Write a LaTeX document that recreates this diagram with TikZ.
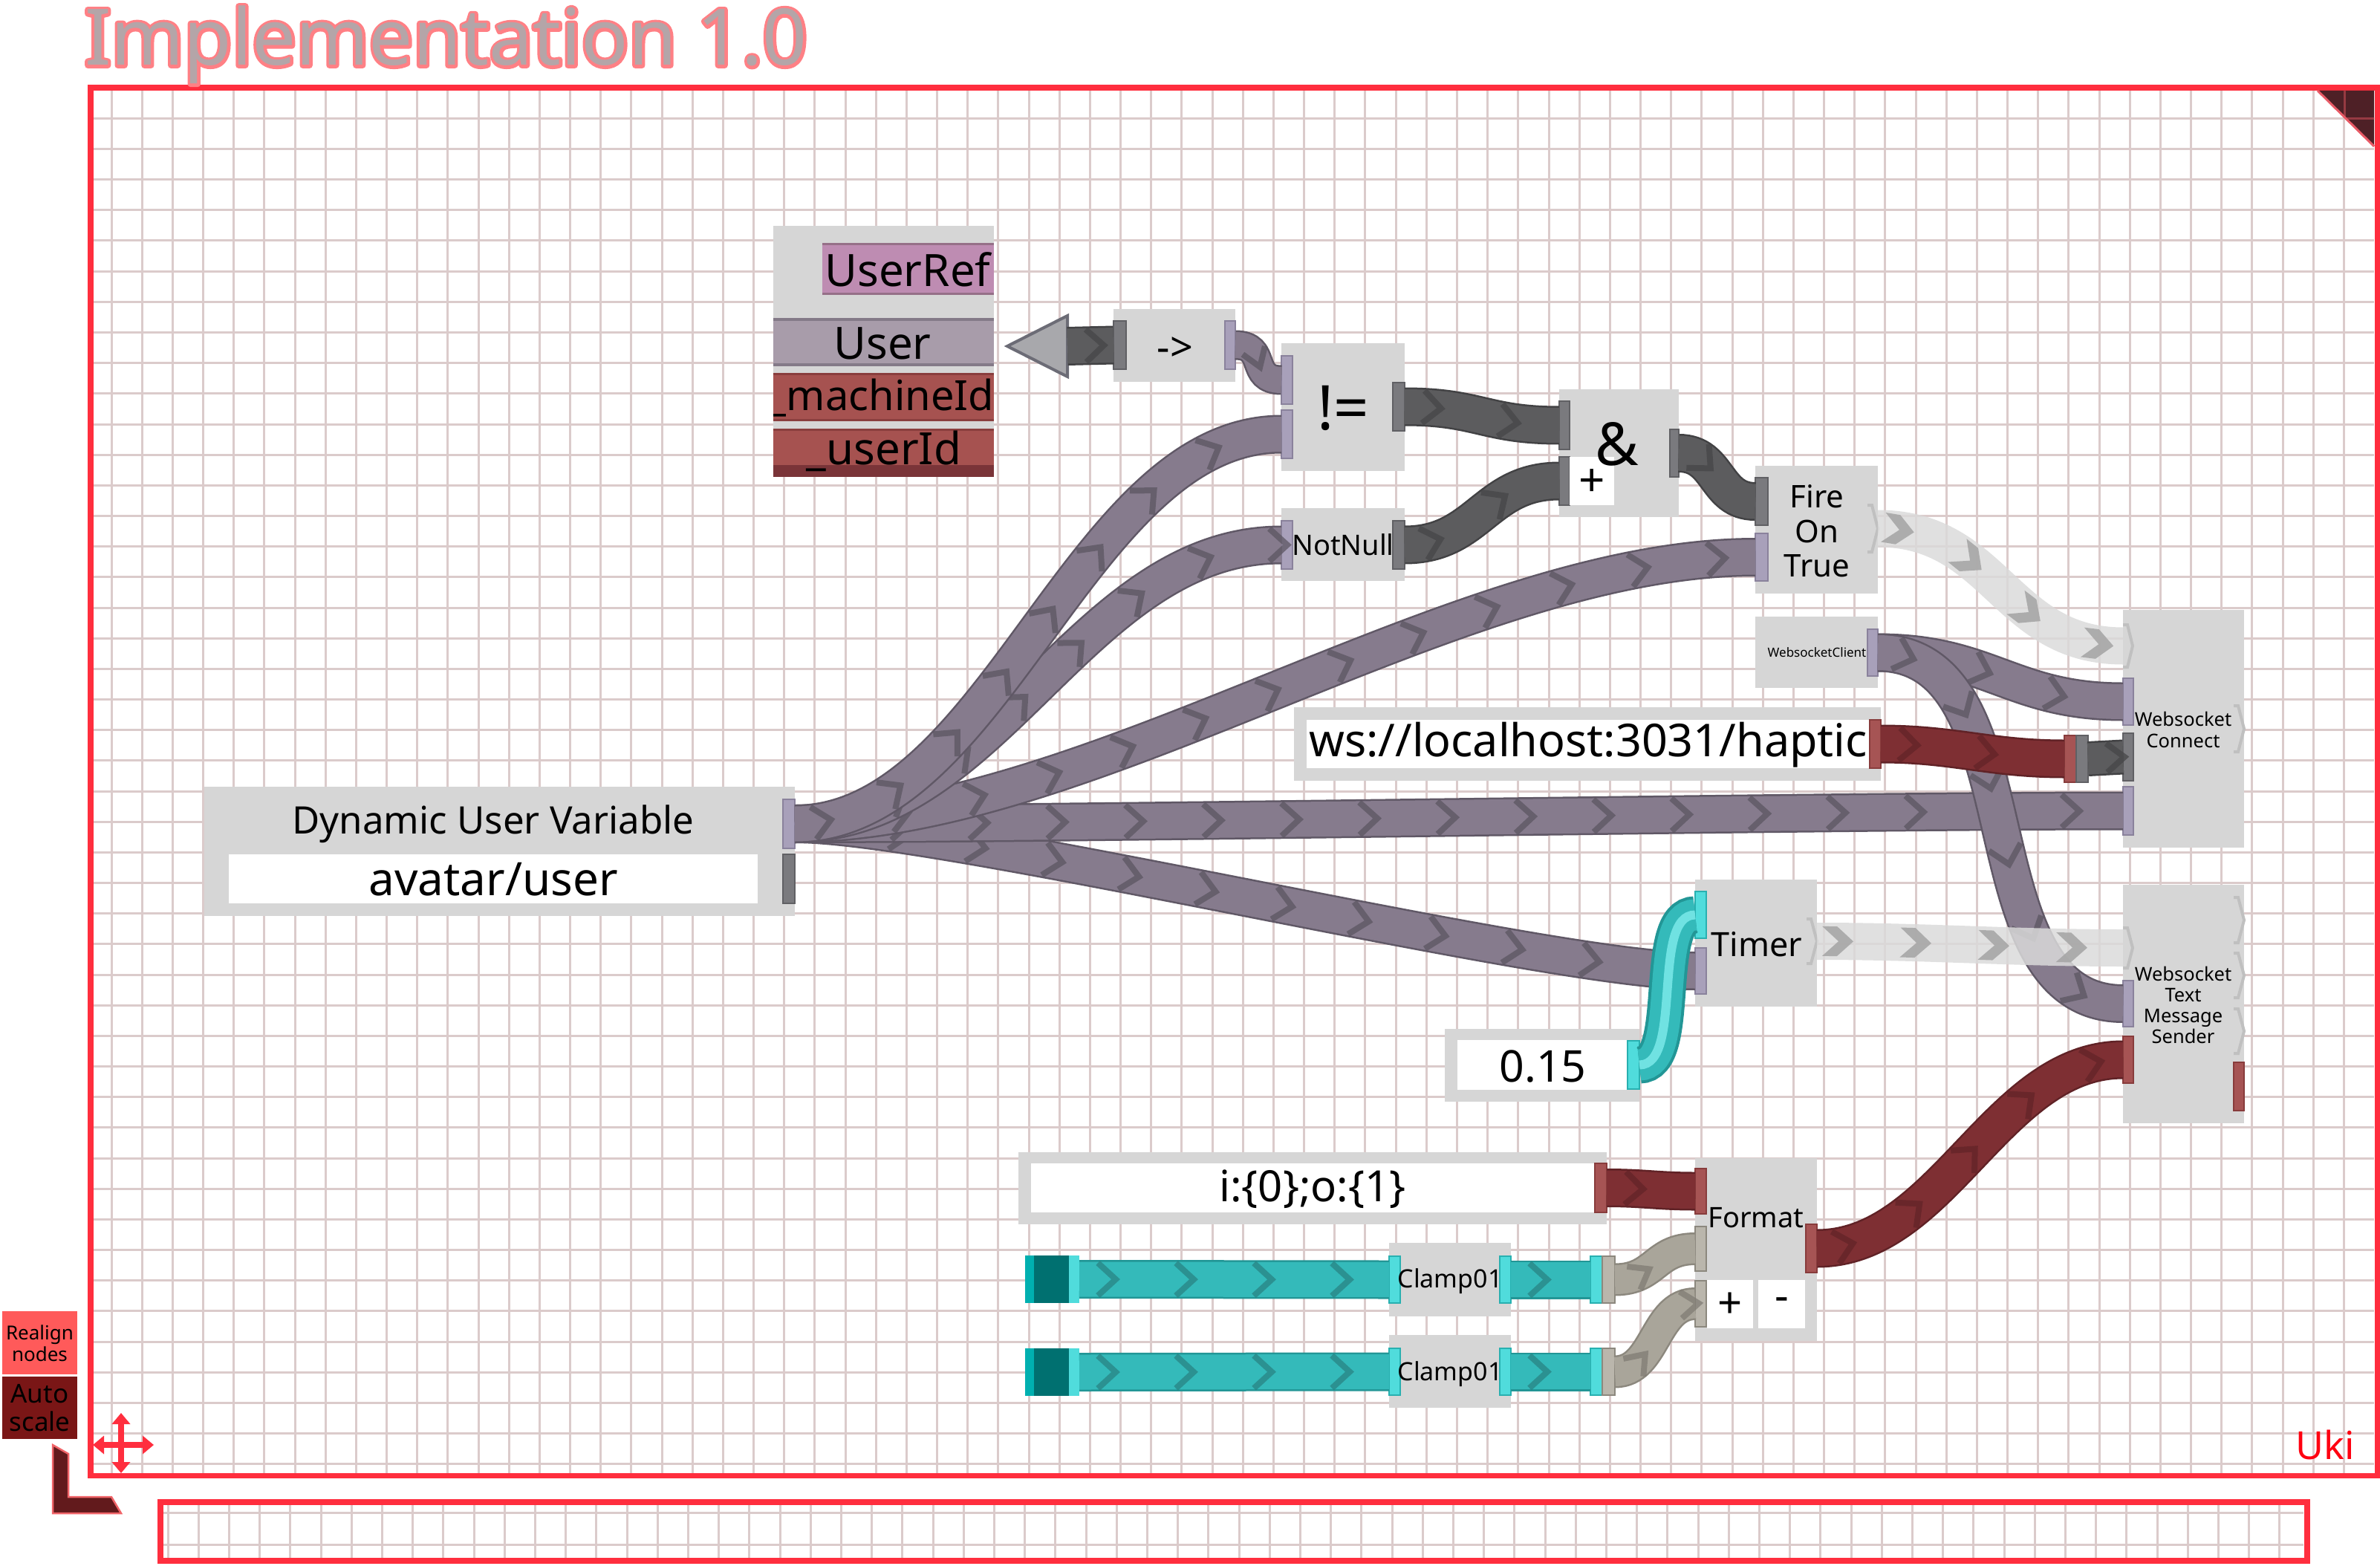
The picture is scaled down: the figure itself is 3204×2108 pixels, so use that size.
\documentclass[tikz,border=0pt]{standalone}
\usepackage{fontspec}
\setmainfont{Noto Sans}
\usetikzlibrary{decorations.markings,calc,arrows.meta}
\newcommand\fsz[1]{\fontsize{#1}{#1}\selectfont}
\newcommand\mkbox[6]{%
  \pgfmathsetmacro\bxw{#4-#2}\pgfmathsetmacro\bxh{#5-#3}%
  \node[minimum width=\bxw pt, minimum height=\bxh pt, anchor=north west, inner sep=0pt, outer sep=0pt, #6] (#1) at (#2,#3) {};}
\definecolor{gridc}{RGB}{219,203,203}
\definecolor{framec}{RGB}{255,46,62}
\definecolor{nbody}{RGB}{214,214,214}
\definecolor{lavW}{RGB}{134,123,141}
\definecolor{lavE}{RGB}{96,88,102}
\definecolor{lavC}{RGB}{92,86,98}
\definecolor{lavP}{RGB}{168,160,186}
\definecolor{lavPE}{RGB}{138,130,156}
\definecolor{drkW}{RGB}{92,92,94}
\definecolor{drkE}{RGB}{66,66,68}
\definecolor{drkC}{RGB}{70,70,72}
\definecolor{drkP}{RGB}{122,122,126}
\definecolor{drkPE}{RGB}{96,96,100}
\definecolor{redW}{RGB}{126,47,51}
\definecolor{redE}{RGB}{96,34,38}
\definecolor{redC}{RGB}{98,36,40}
\definecolor{redP}{RGB}{166,84,84}
\definecolor{redPE}{RGB}{136,60,60}
\definecolor{cyW}{RGB}{52,186,186}
\definecolor{cyE}{RGB}{34,150,150}
\definecolor{cyC}{RGB}{40,132,132}
\definecolor{cyH}{RGB}{112,226,226}
\definecolor{cyP}{RGB}{80,220,220}
\definecolor{cyPE}{RGB}{40,176,176}
\definecolor{dteal}{RGB}{0,112,112}
\definecolor{cyS}{RGB}{0,176,176}
\definecolor{bgW}{RGB}{169,165,154}
\definecolor{bgE}{RGB}{140,136,126}
\definecolor{bgC}{RGB}{128,124,116}
\definecolor{bgP}{RGB}{186,182,172}
\definecolor{impW}{RGB}{218,218,218}
\definecolor{impC}{RGB}{164,164,164}
\definecolor{brk}{RGB}{192,192,192}
\definecolor{refP}{RGB}{190,140,178}
\definecolor{refPE}{RGB}{150,112,136}
\definecolor{userR}{RGB}{168,156,170}
\definecolor{userRE}{RGB}{132,122,136}
\definecolor{idR}{RGB}{166,82,80}
\definecolor{idRE}{RGB}{138,62,62}
\definecolor{idRD}{RGB}{122,52,56}
\definecolor{triF}{RGB}{168,168,172}
\definecolor{triE}{RGB}{108,108,118}
\definecolor{titleF}{RGB}{180,165,168}
\definecolor{realignc}{RGB}{255,90,90}
\definecolor{autoc}{RGB}{122,22,22}
\definecolor{ukired}{RGB}{255,0,16}
\definecolor{cornc}{RGB}{78,32,38}
\definecolor{cornl}{RGB}{150,58,66}
\definecolor{corne}{RGB}{232,90,102}
\definecolor{lshape}{RGB}{98,26,28}
\definecolor{lshapeE}{RGB}{240,100,104}
\tikzset{
  txt/.style={inner sep=0pt, outer sep=0pt},
  body/.style={fill=nbody},
  fieldw/.style={fill=white},
  pL/.style={fill=lavP, draw=lavPE, line width=2pt},
  pD/.style={fill=drkP, draw=drkPE, line width=2pt},
  pR/.style={fill=redP, draw=redPE, line width=2pt},
  pC/.style={fill=cyP, draw=cyPE, line width=2pt},
  pB/.style={fill=bgP, draw=bgE, line width=2pt},
  gridl/.style={draw=gridc, line width=3pt},
  brkst/.style={draw=brk, line width=4pt, line join=miter},
  wirest/.style n args={4}{draw=#2, line width=#4,
    postaction={draw=#1, line width=#4-5pt},
    postaction={draw=none, decorate, decoration={markings,
      mark=between positions 40pt and 1 step 105pt with
      {\draw[line width=8pt, draw=#3, draw opacity=.75, line join=miter]
        (-15pt,{-#4/2+4pt}) -- (9pt,0pt) -- (-15pt,{#4/2-4pt});}}}},
  lavwire/.style={wirest={lavW}{lavE}{lavC}{52pt}},
  lavwireS/.style={wirest={lavW}{lavE}{lavC}{40pt}},
  drkwire/.style={wirest={drkW}{drkE}{drkC}{52pt}},
  redwire/.style={wirest={redW}{redE}{redC}{52pt}},
  cywire/.style={wirest={cyW}{cyE}{cyC}{52pt}},
  bgwire/.style={wirest={bgW}{bgE}{bgC}{44pt}},
  cy3d/.style={draw=cyE, line width=50pt, postaction={draw=cyW, line width=42pt},
    postaction={draw=cyH, line width=12pt}},
  impwire/.style={draw=impW, line width=50pt, draw opacity=.85,
    postaction={draw=none, decorate, decoration={markings,
      mark=between positions 35pt and 1 step 105pt with
      {\fill[impC, fill opacity=.85] (-28pt,-20pt) -- (-8pt,-20pt) -- (14pt,0pt)
        -- (-8pt,20pt) -- (-28pt,20pt) -- (-6pt,0pt) -- cycle;}}}},
}
\begin{document}
\begin{tikzpicture}[x=1pt,y=-1pt]
\useasboundingbox (0,0) rectangle (3204,2108);
% ---------- grids ----------
\foreach \k in {0,...,73} {\draw[gridl] ({150+41.17*\k},121) -- ({150+41.17*\k},1983);}
\foreach \k in {0,...,44} {\draw[gridl] (124,{159.3+41.17*\k}) -- (3196,{159.3+41.17*\k});}
\foreach \k in {0,...,69} {\draw[gridl] ({226+41.2*\k},2026) -- ({226+41.2*\k},2097);}
\foreach \yy in {2036,2079} {\draw[gridl] (220,\yy) -- (3101,\yy);}
% ---------- frames ----------
\draw[framec, line width=7.5pt] (121.75,118) rectangle (3200.25,1986.5);
\draw[framec, line width=8pt] (216,2022) rectangle (3105.5,2101);
\fill[cornc] (3120,122) -- (3196,122) -- (3196,197) -- cycle;
\begin{scope}
  \clip (3120,122) -- (3196,122) -- (3196,197) -- cycle;
  \draw[cornl, line width=3pt] (3156.4,100) -- (3156.4,210);
  \draw[cornl, line width=3pt] (3100,159.3) -- (3200,159.3);
\end{scope}
\draw[corne, line width=3pt] (3120,122) -- (3196,197);
% ---------- title (outlined) ----------
\node[txt, anchor=base west, text=titleF, font=\fsz{105}] (ttlo) at (114,88)
  {\special{pdf:literal direct 1 Tr 8 w 1 0.5 0.52 RG 1 j}Implementation 1.0\special{pdf:literal direct 0 Tr}};
\node[txt, anchor=base west, text=titleF, font=\fsz{105}] (ttl) at (114,88) {Implementation 1.0};
% ---------- UserRef panel ----------
\mkbox{urefP}{1041}{304}{1338}{642}{body}
\mkbox{urefL}{1107}{329}{1338}{395}{fill=refP}
\draw[refPE, line width=3pt] (urefL.north west) -- (urefL.north east);
\draw[refPE, line width=3pt] (urefL.south west) -- (urefL.south east);
\node[txt, anchor=base, font=\fsz{60}] (urefT) at (1222,385) {UserRef};
\mkbox{uUser}{1041}{428}{1338}{493}{fill=userR}
\draw[userRE, line width=4pt] ([yshift=-2pt]uUser.north west) -- ([yshift=-2pt]uUser.north east);
\draw[userRE, line width=4pt] ([yshift=2pt]uUser.south west) -- ([yshift=2pt]uUser.south east);
\node[txt, anchor=base, font=\fsz{60}] (uUserT) at (1188,483) {User};
\mkbox{uMid}{1041}{502}{1338}{567}{fill=idR}
\draw[idRE, line width=3pt] ([yshift=-1.5pt]uMid.north west) -- ([yshift=-1.5pt]uMid.north east);
\draw[idRE, line width=3pt] ([yshift=1.5pt]uMid.south west) -- ([yshift=1.5pt]uMid.south east);
\begin{scope}
  \clip (1041,502) rectangle (1338,567);
  \node[txt, anchor=base, font=\fsz{56}] (uMidT) at (1186,552) {\_machineId};
\end{scope}
\mkbox{uUid}{1041}{577}{1338}{642}{fill=idR}
\mkbox{uUidD}{1041}{626}{1338}{642}{fill=idRD}
\draw[idRE, line width=3pt] ([yshift=-1.5pt]uUid.north west) -- ([yshift=-1.5pt]uUid.north east);
\node[txt, anchor=base, font=\fsz{60}] (uUidT) at (1190,625) {\_userId};
% ---------- -> node and output arrow ----------
\mkbox{refTri}{1356}{425}{1437}{507}{}
\filldraw[fill=triF, draw=triE, line width=4pt, line join=miter] (refTri.west) -- (refTri.north east) -- (refTri.south east) -- cycle;
\mkbox{arrN}{1499}{416}{1663}{514}{body}
\mkbox{arrL}{1499}{432}{1516}{497}{pD}
\mkbox{arrR}{1649}{432}{1663}{497}{pL}
\node[txt, anchor=base, font=\fsz{54}] (arrT) at (1582,486) {->};
% ---------- != ----------
\mkbox{neqN}{1725}{462}{1891}{634}{body}
\mkbox{neqA}{1725}{479}{1740}{544}{pL}
\mkbox{neqB}{1725}{552}{1740}{617}{pL}
\mkbox{neqO}{1875}{515}{1891}{580}{pD}
\node[txt, anchor=base, font=\fsz{83}] (neqT) at (1808,578) {!=};
% ---------- & ----------
\mkbox{andN}{2099}{524}{2260}{696}{body}
\mkbox{andA}{2099}{540}{2113}{605}{pD}
\mkbox{andB}{2099}{615}{2113}{680}{pD}
\mkbox{andO}{2248}{578}{2260}{642}{pD}
\mkbox{andP}{2113}{615}{2173}{680}{fieldw}
\node[txt, font=\fsz{62}] (andPT) at (2143,650) {+};
\node[txt, anchor=base, font=\fsz{80}] (andT) at (2177,626) {\&};
% ---------- NotNull ----------
\mkbox{nnN}{1725}{684}{1891}{782}{body}
\mkbox{nnI}{1725}{701}{1740}{766}{pL}
\mkbox{nnO}{1875}{701}{1891}{766}{pD}
\node[txt, anchor=base, font=\fsz{38}] (nnT) at (1808,747) {NotNull};
% ---------- Fire On True ----------
\mkbox{fotN}{2363}{627}{2528}{799}{body}
\mkbox{fotA}{2363}{643}{2380}{707}{pD}
\mkbox{fotB}{2363}{718}{2380}{782}{pL}
\mkbox{fotI}{2514}{680}{2528}{743}{}
\draw[brkst] (fotI.north west) -- ($(fotI.north west)+(6,0)$) -- (fotI.east) -- ($(fotI.south west)+(6,0)$) -- (fotI.south west);
\node[txt, anchor=base, font=\fsz{42}] (fotT1) at (2446,683) {Fire};
\node[txt, anchor=base, font=\fsz{42}] (fotT2) at (2446,730) {On};
\node[txt, anchor=base, font=\fsz{42}] (fotT3) at (2446,776) {True};
% ---------- WebsocketClient ----------
\mkbox{wcN}{2363}{830}{2528}{926}{body}
\mkbox{wcO}{2514}{847}{2528}{910}{pL}
\node[txt, anchor=base, font=\fsz{17}] (wcT) at (2446,884) {WebsocketClient};
% ---------- ws url ----------
\mkbox{wsN}{1742}{952}{2532}{1051}{body}
\mkbox{wsF}{1759}{969}{2517}{1034}{fieldw}
\mkbox{wsO}{2517}{969}{2532}{1034}{pR}
\node[txt, anchor=base, font=\fsz{61}] (wsT) at (2138,1018) {ws://localhost:3031/haptic};
% ---------- converter ----------
\mkbox{convR}{2779}{990}{2795}{1053}{pR}
\mkbox{convG}{2795}{990}{2811}{1053}{pD}
% ---------- Websocket Connect ----------
\mkbox{wscN}{2858}{821}{3021}{1141}{body}
\mkbox{wscI}{2858}{841}{2871}{898}{}
\mkbox{wscA}{2858}{913}{2872}{976}{pL}
\mkbox{wscB}{2858}{987}{2872}{1051}{pD}
\mkbox{wscC}{2858}{1059}{2872}{1124}{pL}
\mkbox{wscX}{3007}{950}{3021}{1012}{}
\foreach \p in {wscI,wscX}
  {\draw[brkst] (\p.north west) -- ($(\p.north west)+(6,0)$) -- (\p.east) -- ($(\p.south west)+(6,0)$) -- (\p.south west);}
\node[txt, anchor=base, font=\fsz{25.5}] (wscT1) at (2939,977) {Websocket};
\node[txt, anchor=base, font=\fsz{25.5}] (wscT2) at (2939,1006) {Connect};
% ---------- Websocket Text Message Sender ----------
\mkbox{wtN}{2858}{1191}{3021}{1512}{body}
\mkbox{wtI}{2858}{1249}{2871}{1303}{}
\mkbox{wtA}{2858}{1320}{2872}{1382}{pL}
\mkbox{wtB}{2858}{1395}{2872}{1458}{pR}
\mkbox{wtX1}{3007}{1208}{3021}{1269}{}
\mkbox{wtX2}{3007}{1283}{3021}{1343}{}
\mkbox{wtX3}{3007}{1358}{3021}{1418}{}
\mkbox{wtO}{3007}{1430}{3021}{1495}{pR}
\foreach \p in {wtI,wtX1,wtX2,wtX3}
  {\draw[brkst] (\p.north west) -- ($(\p.north west)+(6,0)$) -- (\p.east) -- ($(\p.south west)+(6,0)$) -- (\p.south west);}
\node[txt, anchor=base, font=\fsz{25.5}] (wtT1) at (2939,1320) {Websocket};
\node[txt, anchor=base, font=\fsz{25.5}] (wtT2) at (2939,1348) {Text};
\node[txt, anchor=base, font=\fsz{25.5}] (wtT3) at (2939,1376) {Message};
\node[txt, anchor=base, font=\fsz{25.5}] (wtT4) at (2939,1404) {Sender};
% ---------- Timer ----------
\mkbox{tmN}{2282}{1184}{2446}{1355}{body}
\mkbox{tmA}{2282}{1200}{2297}{1263}{pC}
\mkbox{tmB}{2282}{1276}{2297}{1338}{pL}
\mkbox{tmI}{2432}{1237}{2446}{1297}{}
\draw[brkst] (tmI.north west) -- ($(tmI.north west)+(6,0)$) -- (tmI.east) -- ($(tmI.south west)+(6,0)$) -- (tmI.south west);
\node[txt, anchor=base, font=\fsz{45}] (tmT) at (2365,1287) {Timer};
% ---------- 0.15 ----------
\mkbox{v15N}{1945}{1385}{2207}{1483}{body}
\mkbox{v15F}{1962}{1400}{2191}{1467}{fieldw}
\mkbox{v15O}{2191}{1401}{2207}{1466}{pC}
\node[txt, anchor=base, font=\fsz{59}] (v15T) at (2077,1456) {0.15};
% ---------- format string ----------
\mkbox{fsN}{1371}{1551}{2163}{1648}{body}
\mkbox{fsF}{1388}{1566}{2147}{1632}{fieldw}
\mkbox{fsO}{2147}{1566}{2163}{1632}{pR}
\node[txt, anchor=base, font=\fsz{58}] (fsT) at (1767,1617) {i:\{0\};o:\{1\}};
% ---------- Format ----------
\mkbox{fmN}{2282}{1559}{2446}{1805}{body}
\mkbox{fmA}{2282}{1573}{2297}{1634}{pR}
\mkbox{fmB}{2282}{1651}{2297}{1711}{pB}
\mkbox{fmC}{2282}{1724}{2297}{1786}{pB}
\mkbox{fmO}{2431}{1648}{2446}{1713}{pR}
\mkbox{fmP}{2298}{1723}{2360}{1788}{fieldw}
\mkbox{fmM}{2367}{1723}{2430}{1788}{fieldw}
\node[txt, font=\fsz{58}] (fmPT) at ([yshift=-2pt]fmP.center) {+};
\node[txt, font=\fsz{58}] (fmMT) at (fmM) {-};
\node[txt, anchor=base, font=\fsz{38}] (fmT) at (2364,1652) {Format};
% ---------- Clamp01 ----------
\mkbox{c1N}{1870}{1673}{2034}{1772}{body}
\mkbox{c1A}{1870}{1691}{1885}{1754}{pC}
\mkbox{c1O}{2019}{1691}{2034}{1754}{pC}
\node[txt, anchor=base, font=\fsz{34}] (c1T) at (1952,1733) {Clamp01};
\mkbox{c2N}{1870}{1797}{2034}{1895}{body}
\mkbox{c2A}{1870}{1815}{1885}{1878}{pC}
\mkbox{c2O}{2019}{1815}{2034}{1878}{pC}
\node[txt, anchor=base, font=\fsz{34}] (c2T) at (1952,1858) {Clamp01};
% sources
\mkbox{s1}{1380}{1690}{1453}{1754}{fill=dteal}
\mkbox{s1l}{1380}{1690}{1392}{1754}{fill=cyS}
\mkbox{s1r}{1439}{1690}{1453}{1754}{fill=cyP}
\mkbox{s2}{1380}{1815}{1453}{1879}{fill=dteal}
\mkbox{s2l}{1380}{1815}{1392}{1879}{fill=cyS}
\mkbox{s2r}{1439}{1815}{1453}{1879}{fill=cyP}
% converters
\mkbox{k1C}{2141}{1691}{2157}{1754}{pC}
\mkbox{k1G}{2157}{1691}{2174}{1754}{pB}
\mkbox{k2C}{2141}{1815}{2157}{1878}{pC}
\mkbox{k2G}{2157}{1815}{2174}{1878}{pB}
% ---------- Dynamic User Variable ----------
\mkbox{duvN}{275}{1059}{1070}{1233}{body}
\mkbox{duvF}{308}{1150}{1020}{1216}{fieldw}
\mkbox{duvO}{1054}{1076}{1070}{1142}{pL}
\mkbox{duvO2}{1054}{1150}{1070}{1216}{pD}
\node[txt, anchor=base, font=\fsz{51}] (duvT) at (664,1122) {Dynamic User Variable};
\node[txt, anchor=base, font=\fsz{62}] (duvV) at (664,1205) {avatar/user};
% ---------- wires ----------
\draw[lavwire] (duvO.east) .. controls +(200,0) and +(-200,0) .. (tmB.west);
\draw[lavwire] (duvO.east) .. controls +(400,0) and +(-400,0) .. (wscC.west);
\draw[lavwire] (duvO.east) .. controls +(400,0) and +(-400,0) .. (fotB.west);
\draw[lavwire] (duvO.east) .. controls +(270,0) and +(-270,0) .. (nnI.west);
\draw[lavwire] (duvO.east) .. controls +(270,0) and +(-270,0) .. (neqB.west);
\draw[lavwireS] (arrR.east) .. controls +(45,0) and +(-45,0) .. (neqA.west);
\draw[drkwire] (refTri.east) -- (arrL.west);
\draw[drkwire] (neqO.east) .. controls +(100,0) and +(-100,0) .. (andA.west);
\draw[drkwire] (nnO.east) .. controls +(100,0) and +(-100,0) .. (andB.west);
\draw[drkwire] (andO.east) .. controls +(55,0) and +(-55,0) .. (fotA.west);
\draw[lavwire] (wcO.east) .. controls +(150,0) and +(-150,0) .. (wscA.west);
\draw[lavwire] (wcO.east) .. controls +(220,0) and +(-220,0) .. (wtA.west);
\draw[redwire] (wsO.east) .. controls +(100,0) and +(-100,0) .. (convR.west);
\draw[wirest={drkW}{drkE}{drkC}{47pt}] (convG.east) -- (wscB.west);
\draw[impwire] (fotI.east) .. controls +(160,0) and +(-160,0) .. (wscI.west);
\draw[impwire] (tmI.east) .. controls +(150,0) and +(-150,0) .. (wtI.west);
\draw[cy3d] (v15O.east) .. controls +(60,0) and +(-60,0) .. (tmA.west);
\draw[redwire] (fsO.east) .. controls +(50,0) and +(-50,0) .. (fmA.west);
\draw[cywire] (s1r.east) -- (c1A.west);
\draw[cywire] (c1O.east) -- (k1C.west);
\draw[bgwire] (k1G.east) .. controls +(55,0) and +(-55,0) .. (fmB.west);
\draw[cywire] (s2r.east) -- (c2A.west);
\draw[cywire] (c2O.east) -- (k2C.west);
\draw[bgwire] (k2G.east) .. controls +(55,0) and +(-55,0) .. (fmC.west);
\draw[redwire] (fmO.east) .. controls +(170,0) and +(-170,0) .. (wtB.west);
% ---------- bottom-left controls ----------
\mkbox{btnR}{3}{1765}{104}{1850}{fill=realignc}
\node[txt, anchor=base, font=\fsz{26}] (btnRT1) at (53.5,1803) {Realign};
\node[txt, anchor=base, font=\fsz{26}] (btnRT2) at (53.5,1832) {nodes};
\mkbox{btnA}{3}{1853}{104}{1937}{fill=autoc}
\node[txt, anchor=base, font=\fsz{35}] (btnAT1) at (53.5,1888) {Auto};
\node[txt, anchor=base, font=\fsz{35}] (btnAT2) at (53.5,1926) {scale};
\filldraw[fill=lshape, draw=lshapeE, line width=2.5pt] (71,1945) -- (92,1957) -- (92,2015) -- (150,2015) -- (163,2037) -- (71,2037) -- cycle;
\draw[framec, line width=8pt, {Triangle[length=15pt,width=24pt]}-{Triangle[length=15pt,width=24pt]}] (125,1945) -- (207,1945);
\draw[framec, line width=8pt, {Triangle[length=15pt,width=24pt]}-{Triangle[length=15pt,width=24pt]}] (163,1902) -- (163,1983);
\node[txt, anchor=base, text=ukired, font=\fsz{52}] (uki) at (3130,1964) {Uki};
\end{tikzpicture}
\end{document}
